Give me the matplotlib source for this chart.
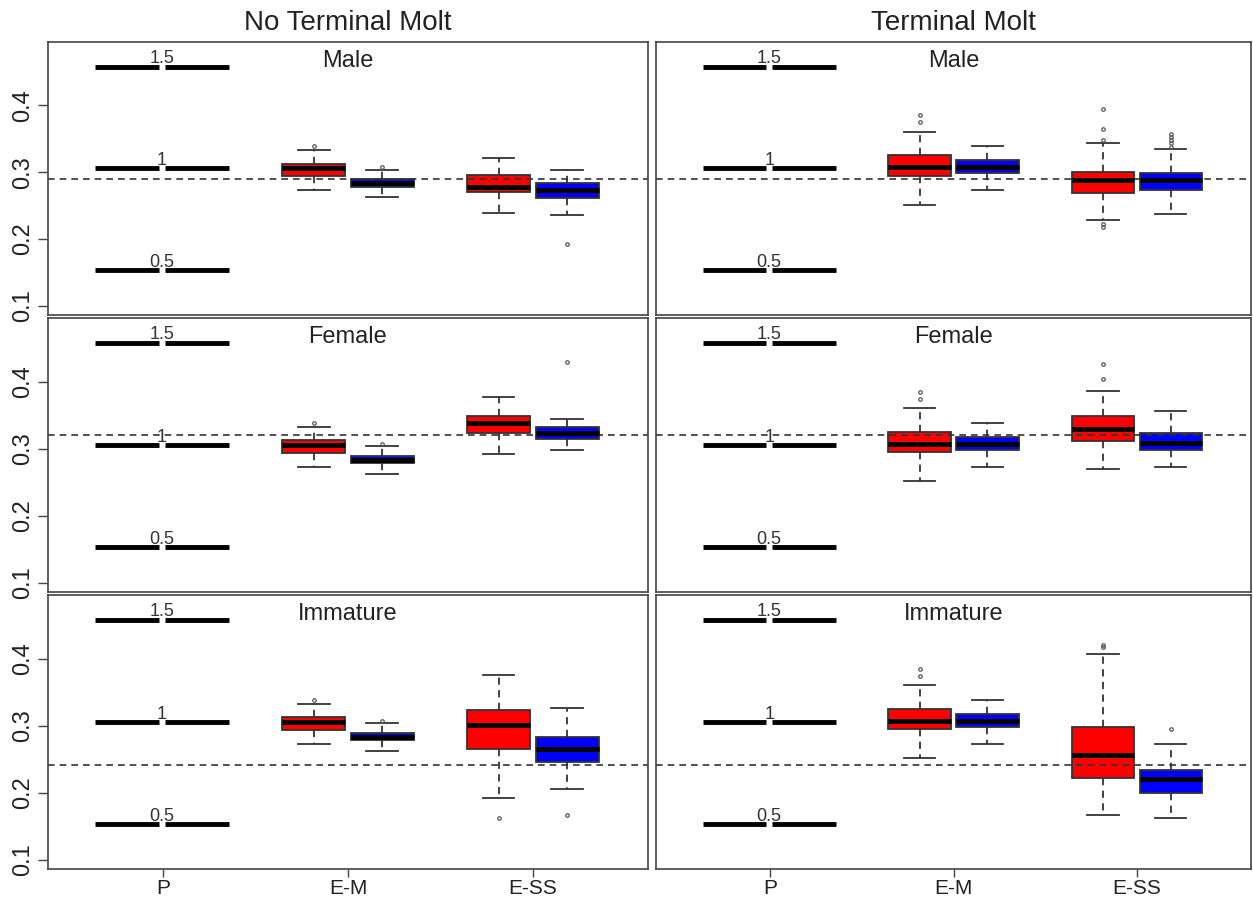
import matplotlib
matplotlib.use("Agg")
import matplotlib.pyplot as plt

plt.rcParams['font.family'] = ['Liberation Sans', 'DejaVu Sans']

# panels
col_titles = ["No Terminal Molt", "Terminal Molt"]
row_titles = ["Male", "Female", "Immature"]
categories = ["P", "E-M", "E-SS"]

# reference line per row (dashed)
ref_line = [0.290, 0.3204, 0.2415]

# P column: scale lines
scale_levels = [0.5, 1, 1.5]
scale_labels = ["0.5", "1", "1.5"]
scale_base = 0.3055

# box stats: [whislo, q1, med, q3, whishi], fliers
# E-M is the same in every row within a column
em_nt_red = [0.273, 0.2936, 0.3055, 0.3124, 0.3325]
em_nt_red_out = [0.339]
em_nt_blue = [0.2626, 0.278, 0.2835, 0.2895, 0.3034]
em_nt_blue_out = [0.3075]
em_t_red = [0.251, 0.2945, 0.307, 0.3254, 0.3604]
em_t_red_out = [0.3745, 0.385]
em_t_blue = [0.273, 0.298, 0.307, 0.318, 0.339]
em_t_blue_out = []

# E-SS, one entry per row (Male, Female, Immature)
ess_nt_red = [[0.239, 0.2696, 0.278, 0.295, 0.3205],
              [0.2918, 0.324, 0.3377, 0.348, 0.3767],
              [0.1918, 0.265, 0.3005, 0.324, 0.3753]]
ess_nt_red_out = [[], [], [0.1627]]
ess_nt_blue = [[0.2356, 0.261, 0.2726, 0.2835, 0.3034],
               [0.298, 0.315, 0.3237, 0.3326, 0.344],
               [0.2057, 0.246, 0.265, 0.2835, 0.326]]
ess_nt_blue_out = [[0.193], [0.429], [0.1663]]
ess_t_red = [[0.229, 0.269, 0.288, 0.300, 0.3444],
             [0.269, 0.312, 0.3289, 0.3488, 0.3862],
             [0.1663, 0.2222, 0.256, 0.2985, 0.4073]]
ess_t_red_out = [[0.3953, 0.3648, 0.348, 0.223, 0.218],
                 [0.4257, 0.4033],
                 [0.421, 0.417]]
ess_t_blue = [[0.2376, 0.2726, 0.288, 0.2985, 0.334],
              [0.273, 0.2985, 0.308, 0.323, 0.3558],
              [0.1627, 0.1997, 0.2207, 0.2341, 0.273]]
ess_t_blue_out = [[0.357, 0.353, 0.348, 0.344, 0.338],
                  [],
                  [0.295]]


def stat(v, out):
    return dict(whislo=v[0], q1=v[1], med=v[2], q3=v[3], whishi=v[4], fliers=out)


fig = plt.figure(figsize=(12.53, 9.0), dpi=100)

col_x = [(48 / 1253, 600 / 1253), (656 / 1253, 595 / 1253)]
row_y = [(1 - 315 / 900, 273 / 900), (1 - 592 / 900, 274 / 900), (1 - 869 / 900, 274 / 900)]

edge = "#333333"
txt = "#222222"
off = 0.185
bw = 0.34

for c in range(2):
    for r in range(3):
        ax = fig.add_axes([col_x[c][0], row_y[r][0], col_x[c][1], row_y[r][1]])
        if c == 0:
            em = [(em_nt_red, em_nt_red_out, "red"), (em_nt_blue, em_nt_blue_out, "blue")]
            ess = [(ess_nt_red[r], ess_nt_red_out[r], "red"), (ess_nt_blue[r], ess_nt_blue_out[r], "blue")]
        else:
            em = [(em_t_red, em_t_red_out, "red"), (em_t_blue, em_t_blue_out, "blue")]
            ess = [(ess_t_red[r], ess_t_red_out[r], "red"), (ess_t_blue[r], ess_t_blue_out[r], "blue")]

        for xc, group in [(2, em), (3, ess)]:
            for k, (v, out, col) in enumerate(group):
                pos = xc - off if k == 0 else xc + off
                ax.bxp([stat(v, out)], positions=[pos], widths=bw, patch_artist=True,
                       boxprops=dict(facecolor=col, edgecolor=edge, linewidth=1.3),
                       medianprops=dict(color="black", linewidth=3.5),
                       whiskerprops=dict(color=edge, linewidth=1.3, linestyle=(0, (4, 3))),
                       capprops=dict(color=edge, linewidth=1.3),
                       capwidths=bw * 0.5,
                       flierprops=dict(marker="o", markersize=2.5, markerfacecolor="none",
                                       markeredgecolor="#555555", markeredgewidth=0.9))

        # scale lines in P column
        for lv, lb in zip(scale_levels, scale_labels):
            yv = lv * scale_base
            ax.plot([0.632, 0.978], [yv, yv], color="black", lw=3.5, solid_capstyle="butt")
            ax.plot([1.011, 1.357], [yv, yv], color="black", lw=3.5, solid_capstyle="butt")
            ax.text(0.995, yv + 0.005, lb, ha="center", va="baseline", fontsize=13, color="#333333")

        ax.axhline(ref_line[r], color="#333333", lw=1.2, ls=(0, (4, 3)))
        ax.text(2, 0.467, row_titles[r], ha="center", va="center", fontsize=17, color=txt)

        ax.set_xlim(0.378, 3.622)
        ax.set_ylim(0.086, 0.495)
        for s in ax.spines.values():
            s.set_color("#444444")
            s.set_linewidth(1.2)

        if c == 0:
            ax.set_yticks([0.1, 0.2, 0.3, 0.4])
            ax.set_yticklabels(["0.1", "0.2", "0.3", "0.4"], rotation=90, va="center",
                               fontsize=17, color=txt)
            ax.tick_params(axis="y", length=7, width=1, color="#444444", pad=3)
        else:
            ax.set_yticks([])
        if r == 2:
            ax.set_xticks([1, 2, 3])
            ax.set_xticklabels(categories, fontsize=15, color=txt)
            ax.tick_params(axis="x", length=6, width=1, color="#444444", pad=1)
        else:
            ax.set_xticks([])
        if r == 0:
            ax.set_title(col_titles[c], fontsize=20, color=txt, pad=9)

fig.savefig("out.png", dpi=100)
